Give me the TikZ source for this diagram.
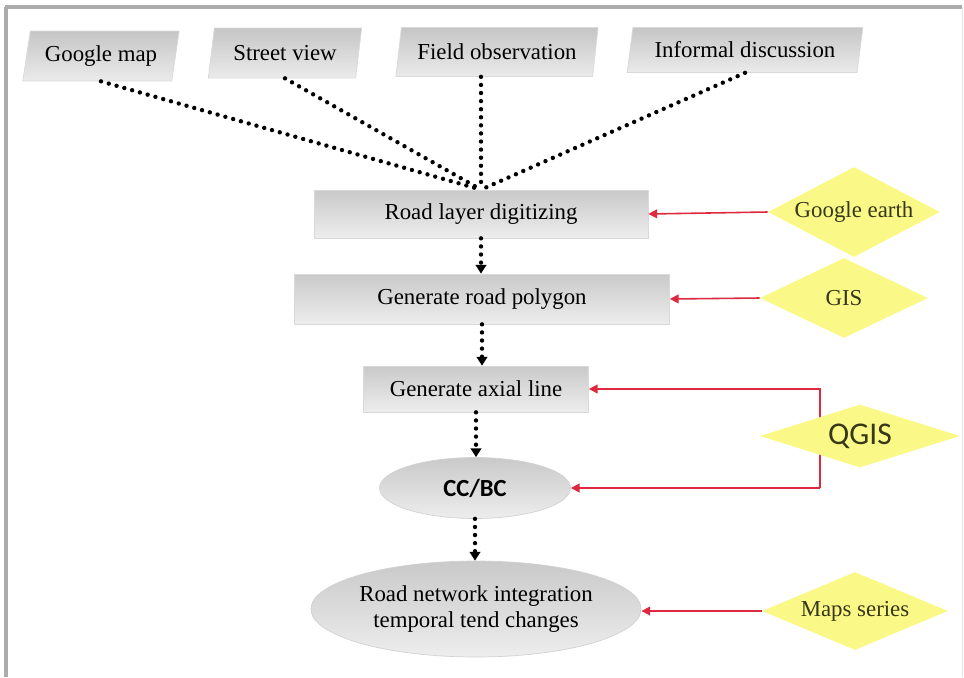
\documentclass[tikz,border=0pt]{standalone}
\usepackage{fontspec}
\setmainfont{Liberation Serif}
\newfontfamily\calibrifont{Carlito}
\usepackage{tikz}
\usetikzlibrary{arrows.meta}
\usetikzlibrary{shapes.geometric}

\definecolor{padyellow}{RGB}{250,248,135}
\definecolor{linkred}{RGB}{222,40,62}
\definecolor{padtext}{RGB}{55,55,25}

\begin{document}
\begin{tikzpicture}[x=0.02cm, y=-0.02cm,
    src/.style={trapezium, trapezium left angle=74, trapezium right angle=106,
        trapezium stretches=true, top color=gray!45, bottom color=gray!16,
        draw=gray!30, inner sep=0pt, font=\fontsize{13}{15}\selectfont},
    proc/.style={rectangle, top color=gray!42, bottom color=gray!14,
        draw=gray!30, inner sep=0pt, font=\fontsize{13}{15}\selectfont},
    oval/.style={ellipse, top color=gray!42, bottom color=gray!14,
        draw=gray!35, inner sep=0pt, align=center, font=\fontsize{13}{15}\selectfont},
    tool/.style={diamond, fill=padyellow, draw=none, inner sep=0pt,
        text=padtext, font=\fontsize{13}{15}\selectfont},
    feed/.style={line width=2.5pt, dash pattern=on 0pt off 4.6pt, line cap=round},
    flow/.style={feed, -{Triangle[width=6pt,length=5pt]}},
    link/.style={linkred, line width=0.9pt, -{Triangle[width=5pt,length=5pt]}}]
    \useasboundingbox (0,0) rectangle (964,677);
    % frame
    \draw[gray!65, line width=2pt] (5,7) -- (962,7);
    \draw[gray!65, line width=2pt] (6,7) -- (6,677);
    \draw[gray!20] (962,7) -- (962,677);

    % sources
    \node[src, minimum width=3.14cm, minimum height=1cm] (gmap) at (101,56) {Google map};
    \node[src, minimum width=3.08cm, minimum height=1cm] (street) at (285,53) {Street view};
    \node[src, minimum width=4.06cm, minimum height=0.98cm] (field) at (497,52) {Field observation};
    \node[src, minimum width=4.72cm, minimum height=0.9cm] (informal) at (745,50) {Informal discussion};

    % main flow
    \node[proc, minimum width=6.68cm, minimum height=0.96cm] (road) at (481,214) {Road layer digitizing};
    \node[proc, minimum width=7.5cm, minimum height=1cm] (polygon) at (482,299) {Generate road polygon};
    \node[proc, minimum width=4.5cm, minimum height=0.92cm] (axial) at (476,389) {Generate axial line};
    \node[oval, minimum width=3.82cm, minimum height=1.22cm, font=\calibrifont\bfseries\fontsize{14}{16}\selectfont] (ccbc) at (475,488) {CC/BC};
    \node[oval, minimum width=6.1cm, minimum height=1.92cm] (network) at (476,609) {Road network integration\\temporal tend changes};

    \draw[feed] (gmap.south) -- (road.north);
    \draw[feed] (street.south) -- (road.north);
    \draw[feed] (field.south -| road.north) -- (road.north);
    \draw[feed] (informal.south) -- (road.north);
    \draw[flow] (road.south) -- (road.south |- polygon.north);
    \draw[flow] (polygon.south) -- (polygon.south |- axial.north);
    \draw[flow] (axial.south) -- (axial.south |- ccbc.north);
    \draw[flow] (ccbc.south) -- (ccbc.south |- network.north);

    % qgis feeds both steps
    \coordinate (qbend) at (820,436);
    \draw[link] (qbend |- ccbc.east) -- (qbend |- axial.east) -- (axial.east);
    \draw[link] (qbend |- ccbc.east) -- (ccbc.east);

    % tools
    \node[tool, aspect=1.9, minimum width=3.44cm, minimum height=1.8cm] (gearth) at (854,212) {Google earth};
    \node[tool, aspect=2.1, minimum width=3.36cm, minimum height=1.6cm] (gis) at (844,298) {GIS};
    \node[tool, aspect=3.2, minimum width=4cm, minimum height=1.26cm, font=\calibrifont\fontsize{18}{20}\selectfont] (qgis) at (860,436) {QGIS};
    \node[tool, aspect=2.4, minimum width=3.72cm, minimum height=1.56cm] (maps) at (855,611) {Maps series};

    \draw[link] (gearth.west) -- (road.east);
    \draw[link] (gis.west) -- (polygon.east);
    \draw[link] (maps.west) -- (maps.west -| network.east);
\end{tikzpicture}
\end{document}
